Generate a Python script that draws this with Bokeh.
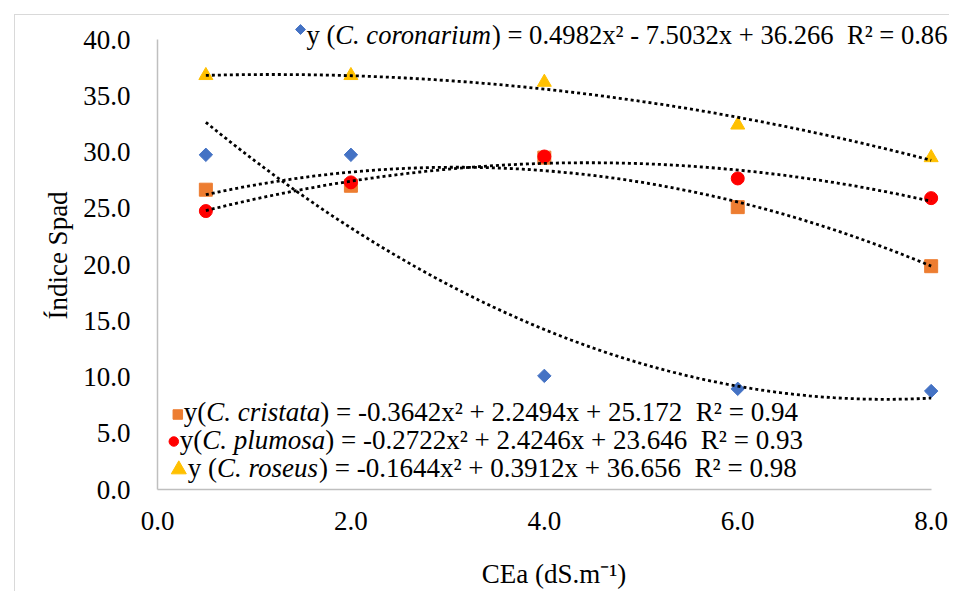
import numpy as np
from math import pi
from bokeh.plotting import figure
from bokeh.models import Range1d, FixedTicker, PrintfTickFormatter, Label
from bokeh.embed import file_html
from bokeh.resources import INLINE

# ---------------- data ----------------
cea = [0.5, 2.0, 4.0, 6.0, 8.0]
coronarium = [29.75, 29.75, 10.1, 8.95, 8.75]
cristata = [26.65, 27.0, 29.5, 25.1, 19.85]
plumosa = [24.75, 27.3, 29.6, 27.65, 25.9]
roseus = [36.8, 36.8, 36.2, 32.4, 29.5]

# trendline coefficients (a, b, c) shown in the chart: y = a x^2 + b x + c
coef_coronarium = [0.4982, -7.5032, 36.266]
coef_cristata = [-0.3642, 2.2494, 25.172]
coef_plumosa = [-0.2722, 2.4246, 23.646]
coef_roseus = [-0.1644, 0.3912, 36.656]

x_ticks = [0, 2, 4, 6, 8]
y_ticks = [0, 5, 10, 15, 20, 25, 30, 35, 40]

# ---------------- layout ----------------
OFF = 15                      # chart-area border offset (margin 14 + border 1)
W, H = 935, 577
ML, MR, MT, MB = 142, 0, 6, 103
XMAX = 8.2
YMAX = 41.6
FONT = "Liberation Serif"
FS = 27

p = figure(width=W, height=H, output_backend="svg", toolbar_location=None,
           x_range=Range1d(0, XMAX), y_range=Range1d(0, YMAX),
           min_border_left=ML, min_border_right=MR,
           min_border_top=MT, min_border_bottom=MB)
p.styles = {"margin-left": "14px", "margin-top": "14px",
            "border-left": "1px solid #D9D9D9", "border-top": "1px solid #D9D9D9"}
p.outline_line_color = None
p.grid.visible = False
p.background_fill_color = "white"
p.border_fill_color = "white"

# screen-pixel -> data helpers (for annotation placement only)
X0P = OFF + ML
XS = (W - ML - MR) / XMAX
Y0P = OFF + H - MB
YS = (H - MT - MB) / YMAX


def px2x(px):
    return (px - X0P) / XS


def px2y(py):
    return (Y0P - py) / YS


for ax in (p.xaxis[0], p.yaxis[0]):
    ax.major_tick_line_color = None
    ax.minor_tick_line_color = None
    ax.major_tick_out = 0
    ax.major_tick_in = 0
    ax.axis_line_color = "#BFBFBF"
    ax.axis_line_width = 1.5
    ax.major_label_text_font = FONT
    ax.major_label_text_font_size = f"{FS}px"
    ax.major_label_text_color = "black"
    ax.formatter = PrintfTickFormatter(format="%.1f")
    ax.axis_label_text_font = FONT
    ax.axis_label_text_font_size = f"{FS}px"
    ax.axis_label_text_font_style = "normal"
    ax.axis_label_text_color = "black"

p.xaxis[0].ticker = FixedTicker(ticks=x_ticks)
p.xaxis[0].bounds = (0, 8)
p.xaxis[0].major_label_standoff = 22
p.xaxis[0].axis_label = "CEa (dS.m⁻¹)"
p.xaxis[0].axis_label_standoff = 26
p.yaxis[0].ticker = FixedTicker(ticks=y_ticks)
p.yaxis[0].bounds = (0, 40)
p.yaxis[0].major_label_standoff = 27
p.yaxis[0].axis_label = "Índice Spad"
p.yaxis[0].axis_label_standoff = 7

# ---------------- markers ----------------
p.scatter(cea, coronarium, marker="square", angle=pi / 4, size=9.5, color="#4472C4")
p.scatter(cea, cristata, marker="square", size=13, color="#ED7D31")
p.scatter(cea, plumosa, marker="circle", size=13, color="#FF0000")
p.scatter(cea, roseus, marker="triangle", size=14, color="#FFC000")

# ---------------- trendlines ----------------
xs = np.linspace(cea[0], cea[-1], 150)
for coef in (coef_coronarium, coef_cristata, coef_plumosa, coef_roseus):
    p.line(xs, np.polyval(coef, xs), line_color="black", line_width=2.8, line_dash="3 3")

# ---------------- text helpers ----------------
RM = {' ': 250, '(': 333, ')': 333, '=': 564, '-': 333, '+': 564, '.': 250,
      'x': 500, 'y': 500, 'R': 667, '²': 300, 'C': 667, 'E': 611, 'a': 444,
      'd': 500, 'S': 556, 'm': 778}
IT = {'C': 667, '.': 250, ' ': 250, 'c': 444, 'o': 500, 'r': 389, 'n': 500,
      'a': 500, 'i': 278, 'u': 500, 'm': 722, 's': 389, 't': 278, 'p': 500,
      'l': 278, 'e': 444}


def tw(s, italic=False, size=FS):
    t = IT if italic else RM
    return sum(t.get(c, 500) for c in s) * size / 1000.0


def label(px, py, text, italic=False, size=FS, align="left", angle=0.0):
    p.add_layout(Label(x=px2x(px), y=px2y(py), text=text, text_font=FONT,
                       text_font_size=f"{size}px",
                       text_font_style="italic" if italic else "normal",
                       text_color="black", text_align=align,
                       text_baseline="middle", angle=angle))


def eq_line(px, py, segs, size=FS):
    x = px
    for text, italic in segs:
        if text is None:
            x += tw("  ", size=size)
            continue
        label(x, py, text, italic, size=size)
        x += tw(text, italic, size=size)


# legend keys
p.scatter([px2x(300)], [px2y(29)], marker="square", angle=pi / 4, size=7, color="#4472C4")
p.scatter([px2x(177.3)], [px2y(414)], marker="square", size=9.5, color="#ED7D31")
p.scatter([px2x(173.3)], [px2y(441)], marker="circle", size=9.5, color="#FF0000")
p.scatter([px2x(178.3)], [px2y(469)], marker="triangle", size=15, color="#FFC000")

eq_line(306, 34.5, [("y (", False), ("C. coronarium", True),
                    (") = 0.4982x² - 7.5032x + 36.266", False), (None, False),
                    ("R² = 0.86", False)], size=26.6)
eq_line(183.3, 411.7, [("y(", False), ("C. cristata", True),
                       (") = -0.3642x² + 2.2494x + 25.172", False), (None, False),
                       ("R² = 0.94", False)])
eq_line(179.3, 439.2, [("y(", False), ("C. plumosa", True),
                       (") = -0.2722x² + 2.4246x + 23.646", False), (None, False),
                       ("R² = 0.93", False)])
eq_line(187.3, 467.3, [("y (", False), ("C. roseus", True),
                       (") = -0.1644x² + 0.3912x + 36.656", False), (None, False),
                       ("R² = 0.98", False)])

open("out.html", "w", encoding="utf-8").write(file_html(p, INLINE))
